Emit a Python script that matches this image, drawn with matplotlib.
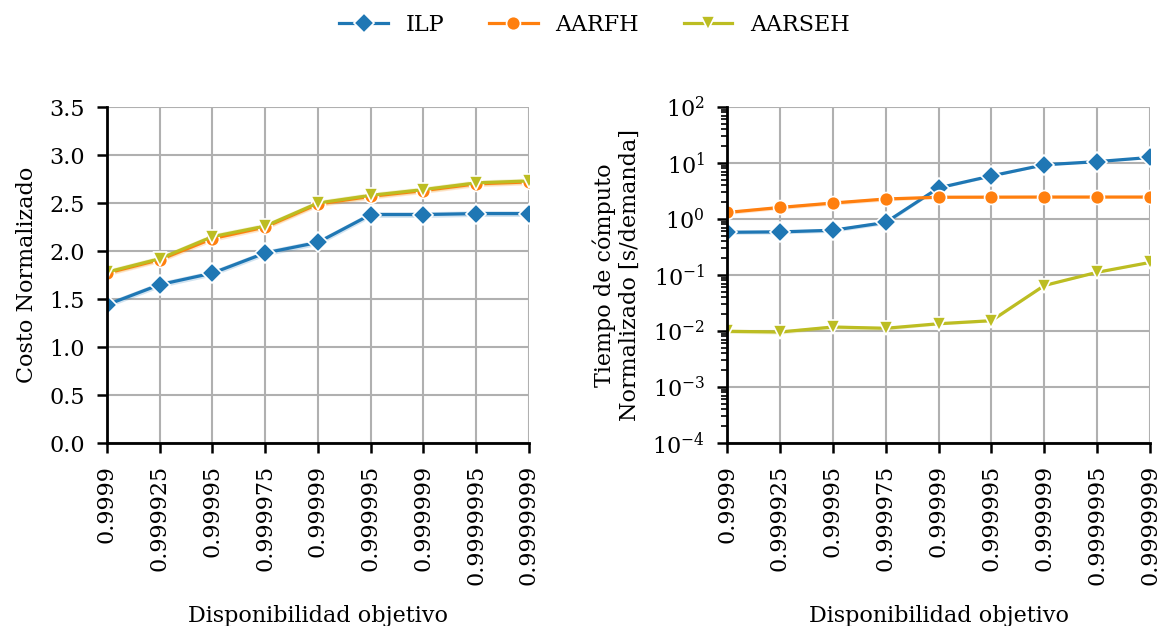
import numpy as np
import matplotlib
matplotlib.use("Agg")
import matplotlib.pyplot as plt
from matplotlib.ticker import LogLocator, NullFormatter

plt.rcParams['font.family'] = ['DejaVu Serif']
plt.rcParams['font.size'] = 16

# datos
targets = ["0.9999", "0.999925", "0.99995", "0.999975", "0.99999",
           "0.999995", "0.999999", "0.9999995", "0.9999999"]

cost_ilp = [1.44, 1.65, 1.77, 1.98, 2.09, 2.38, 2.38, 2.39, 2.39]
cost_aarfh = [1.77, 1.91, 2.13, 2.25, 2.49, 2.57, 2.63, 2.70, 2.72]
cost_aarseh = [1.78, 1.92, 2.15, 2.26, 2.50, 2.58, 2.64, 2.71, 2.73]
cost_ci = [0.03, 0.03, 0.03, 0.03, 0.03, 0.03, 0.03, 0.03, 0.03]

time_ilp = [0.58, 0.59, 0.63, 0.87, 3.6, 5.9, 9.3, 10.6, 12.6]
time_aarfh = [1.31, 1.61, 1.93, 2.28, 2.45, 2.46, 2.47, 2.47, 2.47]
time_aarseh = [0.0099, 0.0096, 0.0118, 0.0112, 0.0135, 0.0153, 0.065, 0.112, 0.168]
time_ci_rel = [0.08, 0.08, 0.08, 0.08, 0.05, 0.05, 0.03, 0.03, 0.03]

colors = {"ILP": "#1f77b4", "AARFH": "#ff7f0e", "AARSEH": "#bcbd22"}
markers = {"ILP": "D", "AARFH": "o", "AARSEH": "v"}

fig = plt.figure(figsize=(11.59, 6.26), dpi=100)
ax1 = fig.add_axes([0.0923, 0.2923, 0.3641, 0.5367])
ax2 = fig.add_axes([0.6273, 0.2923, 0.3650, 0.5367])

x = np.arange(len(targets))


def draw(ax, name, y, lo, hi):
    ax.fill_between(x, lo, hi, color=colors[name], alpha=0.2, linewidth=0)
    ax.plot(x, y, color=colors[name], marker=markers[name], lw=2.3,
            markersize=10, markeredgecolor="white", markeredgewidth=1.2,
            label=name)


y = np.array(cost_ilp); c = np.array(cost_ci)
draw(ax1, "ILP", y, y - c, y + c)
y = np.array(cost_aarfh)
draw(ax1, "AARFH", y, y - c, y + c)
y = np.array(cost_aarseh)
draw(ax1, "AARSEH", y, y - c, y + c)

r = np.array(time_ci_rel)
for name, vals in [("ILP", time_ilp), ("AARFH", time_aarfh), ("AARSEH", time_aarseh)]:
    y = np.array(vals)
    draw(ax2, name, y, y * (1 - r), y * (1 + r))

ax1.set_ylim(0, 3.5)
ax1.set_yticks(np.arange(0, 3.51, 0.5))
ax1.set_ylabel("Costo Normalizado", labelpad=8)

ax2.set_yscale("log")
ax2.set_ylim(1e-4, 1e2)
ax2.yaxis.set_major_locator(LogLocator(base=10, numticks=10))
ax2.yaxis.set_minor_locator(LogLocator(base=10, subs=np.arange(2, 10), numticks=20))
ax2.yaxis.set_minor_formatter(NullFormatter())
ax2.set_ylabel("Tiempo de cómputo\nNormalizado [s/demanda]", labelpad=8)

for ax in (ax1, ax2):
    ax.set_xlim(0, len(targets) - 1)
    ax.set_xticks(x)
    ax.set_xticklabels(targets, rotation=90)
    ax.set_xlabel("Disponibilidad objetivo", labelpad=14)
    ax.grid(True, color="#b0b0b0", linewidth=1.5)
    ax.set_axisbelow(True)
    for s in ("top", "right"):
        ax.spines[s].set_visible(False)
    for s in ("left", "bottom"):
        ax.spines[s].set_linewidth(2)
        ax.spines[s].set_color("black")
    ax.tick_params(which="major", length=7, width=1.8, direction="out", pad=9)
    ax.tick_params(which="minor", length=4, width=1.2, direction="out")

ax2.grid(False, which="minor")

handles, labels = ax1.get_legend_handles_labels()
fig.legend(handles, labels, loc="upper center", ncol=3, frameon=False,
           bbox_to_anchor=(0.513, 1.01), fontsize=16, columnspacing=2.0,
           handlelength=2.2, handletextpad=0.8)

fig.savefig("out.png", dpi=100)
